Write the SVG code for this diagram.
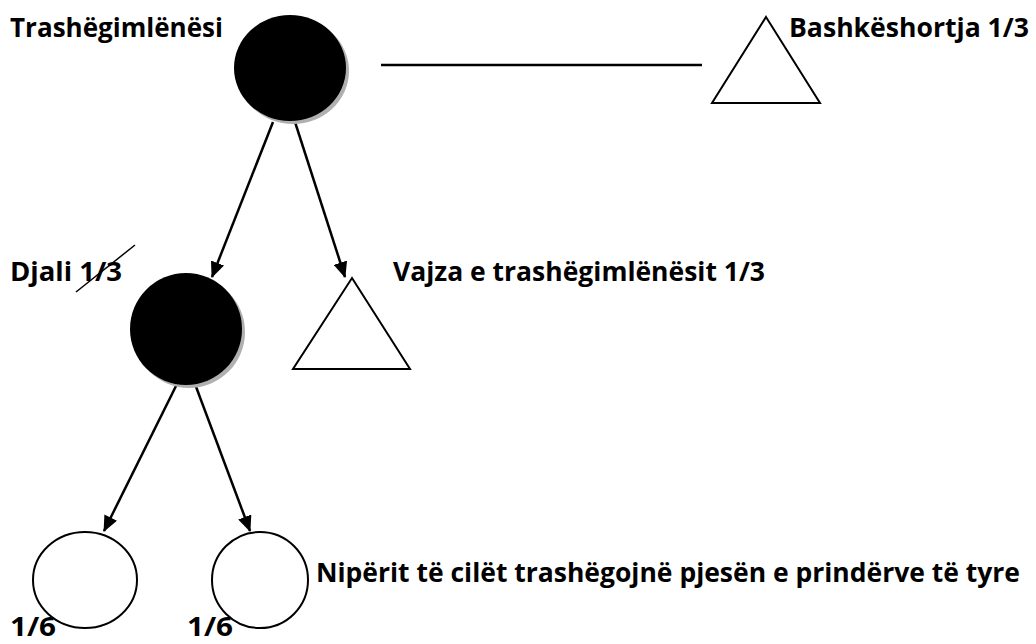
<svg xmlns="http://www.w3.org/2000/svg" width="1036" height="644" viewBox="0 0 1036 644">
  <style>
    .lbl { font-family: "Open Sans", "Liberation Sans", sans-serif; font-weight: bold; font-size: 27px; fill: #000; }
    .edge { stroke: #000; stroke-width: 2.5; fill: none; }
    .open { fill: #fff; stroke: #000; stroke-width: 2; }
    .solid { fill: #000; }
    .shadow { fill: #b0b0b0; }
  </style>
  <defs>
    <marker id="arrow" markerUnits="userSpaceOnUse" markerWidth="16" markerHeight="14" refX="15" refY="7" orient="auto">
      <path d="M0,0 L16,7 L0,14 z" fill="#000"/>
    </marker>
  </defs>
  <rect width="1036" height="644" fill="#fff"/>

  <!-- connectors -->
  <g id="connectors">
    <line class="edge" x1="381" y1="65" x2="702" y2="65"/>
    <line class="edge" x1="273" y1="122" x2="212" y2="277" marker-end="url(#arrow)"/>
    <line class="edge" x1="295" y1="122" x2="345" y2="277" marker-end="url(#arrow)"/>
    <line class="edge" x1="177" y1="384" x2="104" y2="531" marker-end="url(#arrow)"/>
    <line class="edge" x1="195" y1="384" x2="250" y2="531" marker-end="url(#arrow)"/>
  </g>

  <!-- deceased -->
  <g id="decedent">
    <ellipse class="shadow" cx="293" cy="71" rx="56" ry="53"/>
    <ellipse class="solid" cx="290" cy="68" rx="56" ry="53"/>
    <text class="lbl" x="10" y="37" textLength="213" lengthAdjust="spacingAndGlyphs">Trashëgimlënësi</text>
  </g>

  <!-- spouse -->
  <g id="spouse">
    <polygon class="open" points="766,17 820,103 712,103"/>
    <text class="lbl" x="789" y="37" textLength="240" lengthAdjust="spacingAndGlyphs">Bashkëshortja 1/3</text>
  </g>

  <!-- son -->
  <g id="son">
    <ellipse class="shadow" cx="189" cy="332" rx="56" ry="56"/>
    <ellipse class="solid" cx="186" cy="329" rx="56" ry="56"/>
    <text class="lbl" x="10" y="281" textLength="112" lengthAdjust="spacingAndGlyphs">Djali 1/3</text>
    <line x1="76" y1="292" x2="135" y2="245" stroke="#000" stroke-width="1.5"/>
  </g>

  <!-- daughter -->
  <g id="daughter">
    <polygon class="open" points="352,278 410,369 293,369"/>
    <text class="lbl" x="393" y="281" textLength="372" lengthAdjust="spacingAndGlyphs">Vajza e trashëgimlënësit 1/3</text>
  </g>

  <!-- grandchildren -->
  <g id="grandchild-1">
    <ellipse class="open" cx="85" cy="580" rx="52" ry="48"/>
    <text class="lbl" x="10" y="636" textLength="46" lengthAdjust="spacingAndGlyphs">1/6</text>
  </g>
  <g id="grandchild-2">
    <ellipse class="open" cx="260" cy="580" rx="48" ry="48"/>
    <text class="lbl" x="187" y="636" textLength="46" lengthAdjust="spacingAndGlyphs">1/6</text>
  </g>
  <g id="grandchildren-note">
    <text class="lbl" x="316" y="582" textLength="704" lengthAdjust="spacingAndGlyphs">Nipërit të cilët trashëgojnë pjesën e prindërve të tyre</text>
  </g>
</svg>
